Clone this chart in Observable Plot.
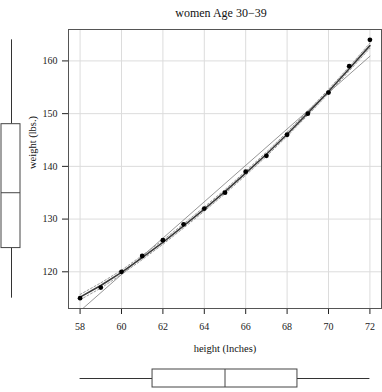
<!DOCTYPE html>
<html>
<head>
<meta charset="utf-8">
<script src="https://cdn.jsdelivr.net/npm/d3@7"></script>
<script src="https://cdn.jsdelivr.net/npm/@observablehq/plot@0.6"></script>
<style>
  html, body { margin: 0; padding: 0; background: white; }
  #chart { position: relative; width: 382px; height: 392px; overflow: hidden; }
  #chart svg { position: absolute; }
</style>
</head>
<body>
<div id="chart"></div>
<script>
// R "women" data set
const heights = [58, 59, 60, 61, 62, 63, 64, 65, 66, 67, 68, 69, 70, 71, 72];
const weights = [115, 117, 120, 123, 126, 129, 132, 135, 139, 142, 146, 150, 154, 159, 164];
// smoother and spread lines
const smoothFit = [115.2, 117.4, 119.9, 122.7, 125.6, 128.7, 131.9, 135.2, 138.7, 142.3, 146.1, 150.1, 154.2, 158.5, 162.9];
const spreadUpper = [115.7, 117.9, 120.3, 123.1, 126.0, 129.1, 132.3, 135.6, 139.1, 142.7, 146.5, 150.5, 154.6, 158.9, 163.4];
const spreadLower = [114.7, 116.9, 119.5, 122.3, 125.2, 128.3, 131.5, 134.8, 138.3, 141.9, 145.7, 149.7, 153.8, 158.1, 162.4];
const xTicks = [58, 60, 62, 64, 66, 68, 70, 72];
const yTicks = [120, 130, 140, 150, 160];
const titleText = "women Age 30\u221239";
const xLabel = "height (lnches)";
const yLabel = "weight (lbs.)";

const data = heights.map((h, i) => ({
  height: h, weight: weights[i],
  smooth: smoothFit[i], upper: spreadUpper[i], lower: spreadLower[i]
}));

// R-style 4% padded domains
const pad = (ext) => { const r = ext[1] - ext[0]; return [ext[0] - 0.04 * r, ext[1] + 0.04 * r]; };
const xDomain = pad(d3.extent(heights));
const yDomain = pad(d3.extent(weights));

const fivenum = (arr, key) => {
  const s = arr.slice().sort(d3.ascending);
  return {key, min: s[0], q1: d3.quantile(s, 0.25), median: d3.quantile(s, 0.5), q3: d3.quantile(s, 0.75), max: s[s.length - 1]};
};
const xStats = [fivenum(heights, "height")];
const yStats = [fivenum(weights, "weight")];

const font = "'Liberation Serif', 'Times New Roman', serif";

const main = Plot.plot({
  width: 382,
  height: 392,
  marginTop: 29,
  marginBottom: 84,
  marginLeft: 68,
  marginRight: 1,
  style: {fontFamily: font, fontSize: "10px", background: "white", color: "#222", overflow: "visible"},
  x: {domain: xDomain, ticks: xTicks, tickSize: 6, tickPadding: 8, label: null},
  y: {domain: yDomain, ticks: yTicks, tickSize: 6, tickPadding: 5, label: null},
  marks: [
    Plot.ruleX(xTicks, {stroke: "#dcdcdc", strokeWidth: 1}),
    Plot.ruleY(yTicks, {stroke: "#dcdcdc", strokeWidth: 1}),
    Plot.linearRegressionY(data, {x: "height", y: "weight", stroke: "#8a8a8a", strokeWidth: 0.9, ci: 0, clip: true}),
    Plot.line(data, {x: "height", y: "upper", stroke: "#9a9a9a", strokeWidth: 1, strokeDasharray: "2,2"}),
    Plot.line(data, {x: "height", y: "lower", stroke: "#9a9a9a", strokeWidth: 1, strokeDasharray: "2,2"}),
    Plot.line(data, {x: "height", y: "smooth", stroke: "#3a3a3a", strokeWidth: 1.6}),
    Plot.dot(data, {x: "height", y: "weight", r: 2.4, fill: "black", stroke: "none"}),
    Plot.frame({stroke: "#555", strokeWidth: 1}),
    Plot.text([titleText], {text: d => d, frameAnchor: "top", dy: -21, dx: -4, fontSize: 12, fill: "#111"}),
    Plot.text([xLabel], {text: d => d, frameAnchor: "bottom", dy: 43, fontSize: 10.5, fill: "#111"}),
    Plot.text([yLabel], {text: d => d, frameAnchor: "left", dx: -36, rotate: -90, fontSize: 10.5, fill: "#111"})
  ]
});
main.style.left = "0px";
main.style.top = "0px";

// bottom marginal boxplot (height)
const bottomBox = Plot.plot({
  width: 382,
  height: 20,
  marginTop: 1,
  marginBottom: 1,
  marginLeft: 68,
  marginRight: 1,
  style: {background: "transparent", overflow: "visible"},
  x: {domain: xDomain, axis: null},
  y: {type: "point", axis: null},
  marks: [
    Plot.ruleY(xStats, {y: "key", x1: "min", x2: "q1", stroke: "#333", strokeWidth: 1}),
    Plot.ruleY(xStats, {y: "key", x1: "q3", x2: "max", stroke: "#333", strokeWidth: 1}),
    Plot.barX(xStats, {x1: "q1", x2: "q3", fill: "white", stroke: "#444", strokeWidth: 1}),
    Plot.tickX(xStats, {x: "median", stroke: "#444", strokeWidth: 1})
  ]
});
bottomBox.style.left = "0px";
bottomBox.style.top = "368px";

// left marginal boxplot (weight)
const leftBox = Plot.plot({
  width: 21,
  height: 392,
  marginTop: 29,
  marginBottom: 84,
  marginLeft: 1,
  marginRight: 1,
  style: {background: "transparent", overflow: "visible"},
  y: {domain: yDomain, axis: null},
  x: {type: "point", axis: null},
  marks: [
    Plot.ruleX(yStats, {x: "key", y1: "min", y2: "q1", stroke: "#333", strokeWidth: 1}),
    Plot.ruleX(yStats, {x: "key", y1: "q3", y2: "max", stroke: "#333", strokeWidth: 1}),
    Plot.barY(yStats, {y1: "q1", y2: "q3", fill: "white", stroke: "#444", strokeWidth: 1}),
    Plot.tickY(yStats, {y: "median", stroke: "#444", strokeWidth: 1})
  ]
});
leftBox.style.left = "0px";
leftBox.style.top = "0px";

const chart = document.getElementById("chart");
chart.appendChild(main);
chart.appendChild(bottomBox);
chart.appendChild(leftBox);
</script>
</body>
</html>
